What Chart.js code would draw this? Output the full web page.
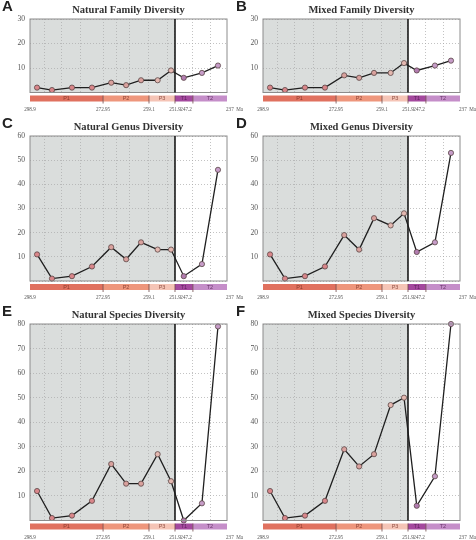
<!DOCTYPE html>
<html>
<head>
<meta charset="utf-8">
<script src="https://cdn.jsdelivr.net/npm/chart.js@4.4.1/dist/chart.umd.min.js"></script>
<style>
    html, body { margin: 0; padding: 0; background: #fff; }
    #page { position: relative; width: 476px; height: 540px; overflow: hidden; }
    #page canvas { position: absolute; }
</style>
</head>
<body>
<div id="page"></div>
<script>
// Ages (Ma) of the sampled stages, oldest first
const stageAges = [296.4, 291.1, 284.0, 276.9, 270.5, 266.0, 261.5, 256.7, 253.0, 249.6, 244.5, 239.7];

// Diversity counts per stage
const naturalFamily  = [2, 1, 2, 2, 4, 3, 5, 5, 9, 6, 8, 11];
const mixedFamily    = [2, 1, 2, 2, 7, 6, 8, 8, 12, 9, 11, 13];
const naturalGenus   = [11, 1, 2, 6, 14, 9, 16, 13, 13, 2, 7, 46];
const mixedGenus     = [11, 1, 2, 6, 19, 13, 26, 23, 28, 12, 16, 53];
const naturalSpecies = [12, 1, 2, 8, 23, 15, 15, 27, 16, 0, 7, 79];
const mixedSpecies   = [12, 1, 2, 8, 29, 22, 27, 47, 50, 6, 18, 80];

// Time scale
const epochNames  = ['P1', 'P2', 'P3', 'T1', 'T2'];
const epochBounds = [298.9, 272.95, 259.1, 251.9, 247.2, 237];
const epochLabels = ['298.9', '272.95', '259.1', '251.9', '247.2', '237  Ma'];
const stageBounds = [293.9, 287.8, 280.8, 272.95, 268.8, 265.1, 259.1, 254.1, 251.9, 247.2, 242.0];
const extinctionAge = 251.9;

// Share of the axis width given to each epoch (the time bar is not linear)
const epochWidths = [0.371, 0.233, 0.132, 0.091, 0.173];
const epochColors = ['#e0715f', '#ee967c', '#f5c4b6', '#a4489e', '#c58ec9'];
const pointColors = ['#d9868a', '#d9a19d', '#e4b8b0', '#b27cb0', '#c69cc8'];
const labelAlign  = ['center', 'center', 'center', 'center', 'right', 'left'];

const panels = [
    { letter: 'A', title: 'Natural Family Diversity',  values: naturalFamily,  yMax: 30, col: 0, row: 0 },
    { letter: 'B', title: 'Mixed Family Diversity',    values: mixedFamily,    yMax: 30, col: 1, row: 0 },
    { letter: 'C', title: 'Natural Genus Diversity',   values: naturalGenus,   yMax: 60, col: 0, row: 1 },
    { letter: 'D', title: 'Mixed Genus Diversity',     values: mixedGenus,     yMax: 60, col: 1, row: 1 },
    { letter: 'E', title: 'Natural Species Diversity', values: naturalSpecies, yMax: 80, col: 0, row: 2 },
    { letter: 'F', title: 'Mixed Species Diversity',   values: mixedSpecies,   yMax: 80, col: 1, row: 2 }
];

const columns = [
    { left: 0,   width: 246, plotLeft: 30, plotRight: 227 },
    { left: 234, width: 242, plotLeft: 29, plotRight: 226 }
];
const rows = [
    { top: 0,   height: 116, plotTop: 19, plotBottom: 92.5 },
    { top: 112, height: 190, plotTop: 24, plotBottom: 169 },
    { top: 300, height: 240, plotTop: 24, plotBottom: 220.5 }
];

function epochIndex(age) {
    for (let i = 0; i < epochNames.length; i++) {
        if (age >= epochBounds[i + 1]) return i;
    }
    return epochNames.length - 1;
}

// Piecewise linear geologic time axis
class GeoScale extends Chart.LinearScale {
    static id = 'geo';

    getPixelForValue(value) {
        if (value === null || value === undefined || isNaN(value)) return NaN;
        const i = epochIndex(value);
        let start = 0;
        for (let k = 0; k < i; k++) start += epochWidths[k];
        const a = epochBounds[i], b = epochBounds[i + 1];
        const f = start + (a - value) / (a - b) * epochWidths[i];
        return this.left + f * this.width;
    }

    getValueForPixel(pixel) {
        const f = (pixel - this.left) / this.width;
        let start = 0;
        for (let i = 0; i < epochWidths.length; i++) {
            if (f <= start + epochWidths[i] || i === epochWidths.length - 1) {
                const a = epochBounds[i], b = epochBounds[i + 1];
                return a - (f - start) / epochWidths[i] * (a - b);
            }
            start += epochWidths[i];
        }
    }
}
Chart.register(GeoScale);

const timeDecor = {
    id: 'timeDecor',
    beforeDraw(chart) {
        const { ctx, chartArea: a, scales: { x } } = chart;
        const xb = x.getPixelForValue(extinctionAge);
        ctx.save();
        ctx.fillStyle = '#dadddc';
        ctx.fillRect(a.left, a.top, xb - a.left, a.bottom - a.top);
        ctx.restore();
    },
    afterDraw(chart, args, opts) {
        const { ctx, chartArea: a, scales: { x } } = chart;
        ctx.save();

        // plot frame
        ctx.strokeStyle = '#8c8c8c';
        ctx.lineWidth = 1;
        ctx.strokeRect(a.left, a.top, a.right - a.left, a.bottom - a.top);

        // Permian-Triassic boundary
        const xb = x.getPixelForValue(extinctionAge);
        ctx.strokeStyle = '#1a1a1a';
        ctx.lineWidth = 1.6;
        ctx.beginPath();
        ctx.moveTo(xb, a.top);
        ctx.lineTo(xb, a.bottom);
        ctx.stroke();

        // time bar
        const barTop = a.bottom + 3, barH = 6;
        epochNames.forEach((name, i) => {
            const x0 = x.getPixelForValue(epochBounds[i]);
            const x1 = x.getPixelForValue(epochBounds[i + 1]);
            ctx.fillStyle = epochColors[i];
            ctx.fillRect(x0, barTop, x1 - x0, barH);
            ctx.fillStyle = i < 3 ? 'rgba(110,40,30,0.75)' : 'rgba(70,20,70,0.75)';
            ctx.font = '5.5px "Liberation Sans"';
            ctx.textAlign = 'center';
            ctx.textBaseline = 'middle';
            ctx.fillText(name, (x0 + x1) / 2, barTop + barH / 2 + 0.3);
        });
        ctx.strokeStyle = '#6e4a4a';
        ctx.lineWidth = 0.8;
        epochBounds.forEach((age, i) => {
            if (i === 0 || i === epochBounds.length - 1) return;
            const xp = x.getPixelForValue(age);
            ctx.beginPath();
            ctx.moveTo(xp, barTop);
            ctx.lineTo(xp, barTop + barH + 2);
            ctx.stroke();
        });

        // age labels (narrow serif)
        ctx.fillStyle = '#555';
        ctx.font = '6.6px "Liberation Serif"';
        ctx.textBaseline = 'middle';
        epochLabels.forEach((label, i) => {
            ctx.textAlign = labelAlign[i];
            let xp = x.getPixelForValue(epochBounds[i]);
            if (labelAlign[i] !== 'center') xp -= 1;
            ctx.save();
            ctx.translate(xp, a.bottom + 16.5);
            ctx.scale(0.78, 1);
            ctx.fillText(label, 0, 0);
            ctx.restore();
        });

        // title and panel letter
        ctx.fillStyle = '#333';
        ctx.font = 'bold 10.5px "Liberation Serif"';
        ctx.textAlign = 'center';
        ctx.textBaseline = 'alphabetic';
        ctx.fillText(opts.title, (a.left + a.right) / 2, a.top - 6);

        ctx.fillStyle = '#222';
        ctx.font = 'bold 15px "Liberation Sans"';
        ctx.textAlign = 'left';
        ctx.fillText(opts.letter, 2, a.top - 8);

        ctx.restore();
    }
};

const gridStyle = { color: '#a9a9a9', lineWidth: 0.7, drawTicks: false };

panels.forEach(p => {
    const col = columns[p.col];
    const row = rows[p.row];

    const canvas = document.createElement('canvas');
    canvas.width = col.width;
    canvas.height = row.height;
    canvas.style.left = col.left + 'px';
    canvas.style.top = row.top + 'px';
    document.getElementById('page').appendChild(canvas);

    new Chart(canvas.getContext('2d'), {
        type: 'line',
        data: {
            datasets: [{
                data: stageAges.map((age, i) => ({ x: age, y: p.values[i] })),
                borderColor: '#1f1f1f',
                borderWidth: 1.3,
                pointRadius: 2.6,
                pointBorderWidth: 0.8,
                pointBorderColor: '#5a4646',
                pointBackgroundColor: stageAges.map(age => pointColors[epochIndex(age)]),
                tension: 0,
                clip: false
            }]
        },
        options: {
            responsive: false,
            animation: false,
            events: [],
            layout: {
                padding: {
                    left: 0,
                    top: row.plotTop,
                    right: col.width - col.plotRight,
                    bottom: row.height - row.plotBottom
                }
            },
            scales: {
                x: {
                    type: 'geo',
                    min: 237,
                    max: 298.9,
                    afterBuildTicks: s => { s.ticks = stageBounds.map(v => ({ value: v })); },
                    afterFit: s => { s.height = 0; },
                    ticks: { display: false },
                    grid: gridStyle,
                    border: { display: false, dash: [1, 2] }
                },
                y: {
                    min: 0,
                    max: p.yMax,
                    afterFit: s => { s.width = col.plotLeft; },
                    ticks: {
                        stepSize: 10,
                        padding: 5,
                        color: '#555',
                        font: { family: 'Liberation Serif', size: 7.5 },
                        callback: v => (v === 0 ? '' : v)
                    },
                    grid: gridStyle,
                    border: { display: false, dash: [1, 2] }
                }
            },
            plugins: {
                legend: { display: false },
                tooltip: { enabled: false },
                timeDecor: { title: p.title, letter: p.letter }
            }
        },
        plugins: [timeDecor]
    });
});
</script>
</body>
</html>
